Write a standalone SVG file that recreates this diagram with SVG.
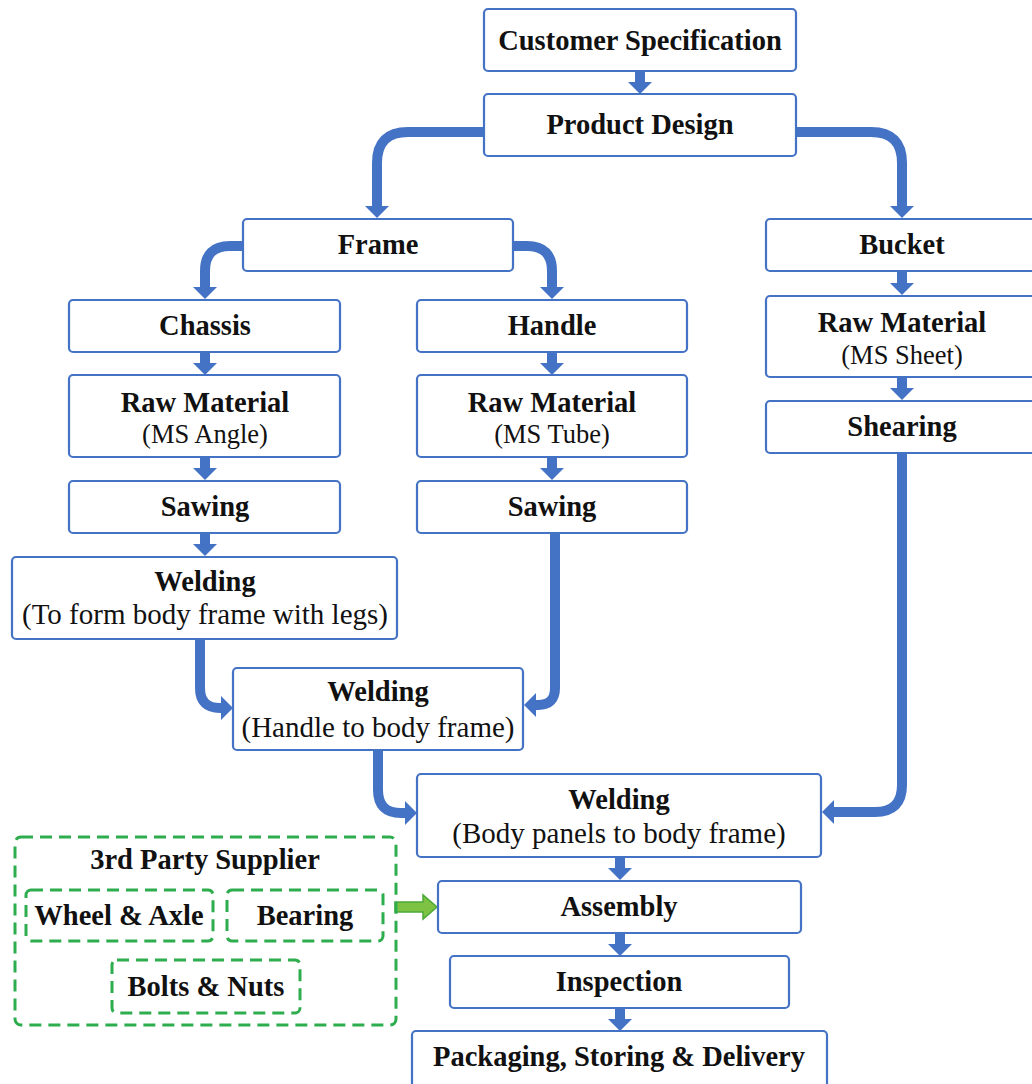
<svg xmlns="http://www.w3.org/2000/svg" width="1032" height="1084" viewBox="0 0 1032 1084">
<style>
.box{fill:#fff;stroke:#4472C4;stroke-width:2.2}
.dash{fill:none;stroke:#2EAD4E;stroke-width:3;stroke-dasharray:12 7}
.t{font-family:"Liberation Serif","Times New Roman",serif;font-weight:bold;font-size:28.5px;fill:#111;text-anchor:middle}
.s{font-family:"Liberation Serif","Times New Roman",serif;font-size:29px;fill:#111;text-anchor:middle}
.s2{font-family:"Liberation Serif","Times New Roman",serif;font-size:26.5px;fill:#111;text-anchor:middle}
.c{fill:none;stroke:#4472C4;stroke-width:10;marker-end:url(#ah)}
</style>
<defs>
<marker id="ah" markerUnits="userSpaceOnUse" viewBox="0 0 12 24" markerWidth="12" markerHeight="24" refX="1" refY="12" orient="auto">
<path d="M0,0 L12,12 L0,24 z" fill="#4472C4"/>
</marker>
</defs>
<rect width="1032" height="1084" fill="#fff"/>

<g id="connectors">
<path class="c" d="M640,71 V83"/>
<path class="c" d="M484,132 H408 Q377,132 377,163 V207"/>
<path class="c" d="M796,132 H871 Q902,132 902,163 V207"/>
<path class="c" d="M243,246 H230 Q205,246 205,271 V288"/>
<path class="c" d="M513,246 H527 Q552,246 552,271 V288"/>
<path class="c" d="M205,352 V364"/>
<path class="c" d="M205,457 V469"/>
<path class="c" d="M205,533 V545"/>
<path class="c" d="M552,352 V364"/>
<path class="c" d="M552,457 V469"/>
<path class="c" d="M902,271 V284"/>
<path class="c" d="M902,377 V389"/>
<path class="c" d="M200,639 V688 Q200,708 220,708 H222"/>
<path class="c" d="M555,533 V688 Q555,705 538,705 H535"/>
<path class="c" d="M378,750 V790 Q378,813 401,813 H406"/>
<path class="c" d="M902,453 V785 Q902,812 875,812 H833"/>
<path class="c" d="M620,857 V869"/>
<path class="c" d="M620,933 V945"/>
<path class="c" d="M620,1008 V1020"/>
<path d="M395,902 H423 V895 L437,907 L423,919 V912 H395 Z" fill="#7DC242" stroke="#4CA93A" stroke-width="1.5"/>
</g>

<g id="customer-spec"><rect class="box" x="484" y="9" width="312" height="62" rx="4"/><text class="t" x="640" y="50">Customer Specification</text></g>
<g id="product-design"><rect class="box" x="484" y="94" width="312" height="62" rx="4"/><text class="t" x="640" y="134">Product Design</text></g>
<g id="frame"><rect class="box" x="243" y="219" width="270" height="52" rx="4"/><text class="t" x="378" y="254">Frame</text></g>
<g id="bucket"><rect class="box" x="766" y="219" width="272" height="52" rx="4"/><text class="t" x="902" y="254">Bucket</text></g>
<g id="chassis"><rect class="box" x="69" y="300" width="271" height="52" rx="4"/><text class="t" x="205" y="335">Chassis</text></g>
<g id="handle"><rect class="box" x="417" y="300" width="270" height="52" rx="4"/><text class="t" x="552" y="335">Handle</text></g>
<g id="raw-angle"><rect class="box" x="69" y="375" width="271" height="82" rx="4"/><text class="t" x="205" y="412">Raw Material</text><text class="s2" x="205" y="443">(MS Angle)</text></g>
<g id="raw-tube"><rect class="box" x="417" y="375" width="270" height="82" rx="4"/><text class="t" x="552" y="412">Raw Material</text><text class="s2" x="552" y="443">(MS Tube)</text></g>
<g id="raw-sheet"><rect class="box" x="766" y="296" width="272" height="81" rx="4"/><text class="t" x="902" y="332">Raw Material</text><text class="s2" x="902" y="364">(MS Sheet)</text></g>
<g id="shearing"><rect class="box" x="766" y="401" width="272" height="52" rx="4"/><text class="t" x="902" y="436">Shearing</text></g>
<g id="sawing-left"><rect class="box" x="69" y="481" width="271" height="52" rx="4"/><text class="t" x="205" y="516">Sawing</text></g>
<g id="sawing-right"><rect class="box" x="417" y="481" width="270" height="52" rx="4"/><text class="t" x="552" y="516">Sawing</text></g>
<g id="welding-legs"><rect class="box" x="12" y="557" width="385" height="82" rx="4"/><text class="t" x="205" y="591">Welding</text><text class="s" x="205" y="624">(To form body frame with legs)</text></g>
<g id="welding-handle"><rect class="box" x="233" y="668" width="290" height="82" rx="4"/><text class="t" x="378" y="701">Welding</text><text class="s" x="378" y="737">(Handle to body frame)</text></g>
<g id="welding-panels"><rect class="box" x="417" y="774" width="404" height="83" rx="4"/><text class="t" x="619" y="809">Welding</text><text class="s" x="619" y="843">(Body panels to body frame)</text></g>
<g id="assembly"><rect class="box" x="438" y="881" width="363" height="52" rx="4"/><text class="t" x="619" y="916">Assembly</text></g>
<g id="inspection"><rect class="box" x="450" y="956" width="339" height="52" rx="4"/><text class="t" x="619" y="991">Inspection</text></g>
<g id="packaging"><rect class="box" x="412" y="1031" width="415" height="62" rx="4"/><text class="t" x="619" y="1066">Packaging, Storing &amp; Delivery</text></g>

<g id="supplier"><rect class="dash" x="15" y="837" width="381" height="188" rx="6"/><text class="t" x="205" y="869">3rd Party Supplier</text></g>
<g id="wheel-axle"><rect class="dash" x="26" y="890" width="187" height="51" rx="5"/><text class="t" x="119" y="925">Wheel &amp; Axle</text></g>
<g id="bearing"><rect class="dash" x="227" y="890" width="156" height="51" rx="5"/><text class="t" x="305" y="925">Bearing</text></g>
<g id="bolts-nuts"><rect class="dash" x="112" y="960" width="188" height="53" rx="5"/><text class="t" x="206" y="996">Bolts &amp; Nuts</text></g>
</svg>
